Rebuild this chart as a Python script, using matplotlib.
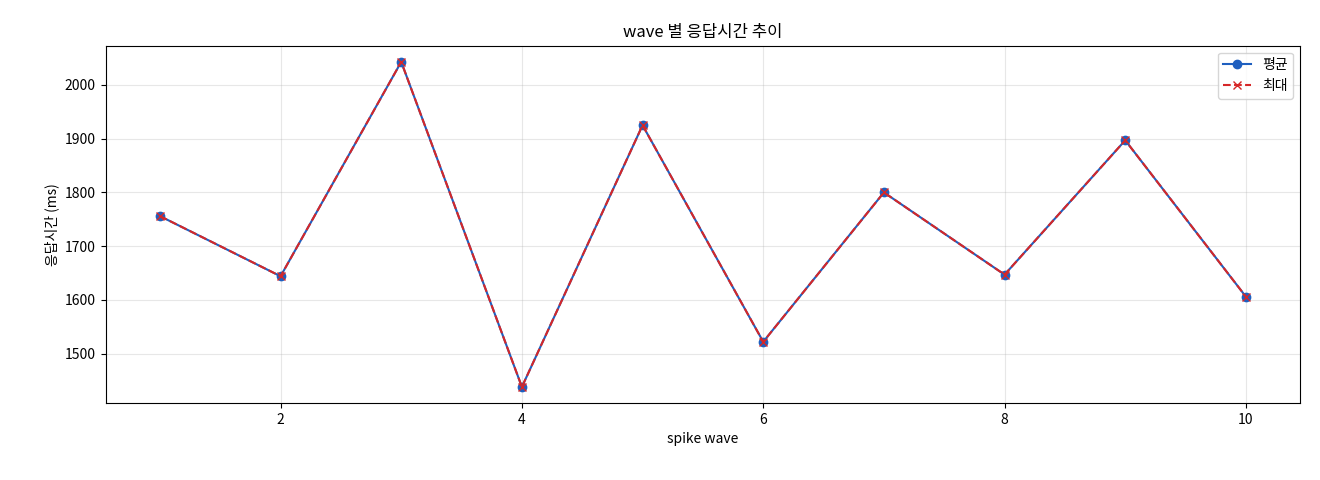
import matplotlib
matplotlib.use("Agg")
import matplotlib.pyplot as plt

plt.rcParams['font.family'] = ['Noto Sans CJK KR', 'DejaVu Sans']

waves = [1, 2, 3, 4, 5, 6, 7, 8, 9, 10]
avg_ms = [1756, 1644, 2043, 1438, 1925, 1522, 1800, 1647, 1897, 1606]
max_ms = [1756, 1644, 2043, 1438, 1925, 1522, 1800, 1647, 1897, 1606]

fig, ax = plt.subplots(figsize=(13.2, 4.8), dpi=100)
ax.plot(waves, avg_ms, marker='o', color='#1f5fbf', label='평균', markersize=6)
ax.plot(waves, max_ms, marker='x', linestyle='--', color='#d62728', label='최대', markersize=6)
ax.set_title('wave 별 응답시간 추이')
ax.set_xlabel('spike wave')
ax.set_ylabel('응답시간 (ms)')
ax.grid(True, alpha=0.3)
ax.legend(loc='upper right')
fig.subplots_adjust(left=0.08, right=0.985, top=0.905, bottom=0.16)
fig.savefig('out.png', dpi=100)
